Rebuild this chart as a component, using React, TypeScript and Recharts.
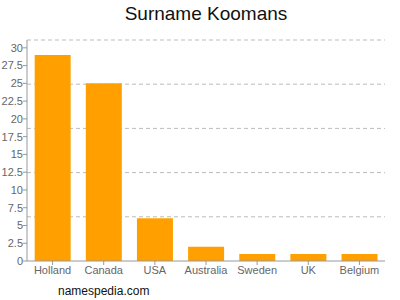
import React from 'react';
import { BarChart, Bar, XAxis, YAxis, CartesianGrid } from 'recharts';

const countries = ['Holland', 'Canada', 'USA', 'Australia', 'Sweden', 'UK', 'Belgium'];
const counts = [29, 25, 6, 2, 1, 1, 1];
const yTicks = [0, 2.5, 5, 7.5, 10, 12.5, 15, 17.5, 20, 22.5, 25, 27.5, 30];
const yMax = 31.1;
// grid lines split the plot into 5 equal bands, not on the labelled ticks
const gridValues = [1, 2, 3, 4, 5].map((i) => (yMax * i) / 5);

const data = countries.map((name, i) => ({ name, count: counts[i] }));

const font = '"Liberation Sans", Arial, sans-serif';

const gridRows = ({ yAxis, offset }: any) =>
  gridValues.map((v) =>
    yAxis && typeof yAxis.scale === 'function'
      ? yAxis.scale(v)
      : offset.top + offset.height * (1 - v / yMax)
  );

export default function App() {
  return (
    <div style={{ position: 'absolute', left: 0, top: 0, width: 400, height: 300, background: '#fff', fontFamily: font }}>
      <div style={{ position: 'absolute', left: 27, width: 358, top: 3, textAlign: 'center', fontSize: 19, color: '#111' }}>
        Surname Koomans
      </div>
      <BarChart
        width={400}
        height={300}
        data={data}
        margin={{ top: 40, right: 15, left: 0, bottom: 19 }}
        barCategoryGap="15%"
      >
        <CartesianGrid
          vertical={false}
          stroke="#bbb"
          strokeDasharray="4 3"
          horizontalCoordinatesGenerator={gridRows}
        />
        <XAxis
          dataKey="name"
          stroke="#999"
          tickSize={4}
          tickMargin={1}
          height={20}
          interval={0}
          tick={{ fill: '#666', fontSize: 11, fontFamily: font }}
        />
        <YAxis
          domain={[0, yMax]}
          ticks={yTicks}
          width={27}
          stroke="#999"
          tickSize={4}
          tickMargin={0}
          interval={0}
          tick={{ fill: '#666', fontSize: 11, fontFamily: font }}
        />
        <Bar dataKey="count" fill="#FFA000" isAnimationActive={false} />
      </BarChart>
      <div style={{ position: 'absolute', left: 58, top: 284, fontSize: 12, color: '#111' }}>namespedia.com</div>
    </div>
  );
}
